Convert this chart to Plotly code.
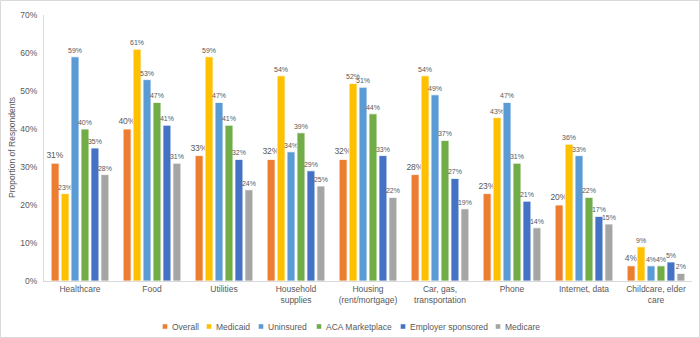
import plotly.graph_objects as go

categories = ["Healthcare", "Food", "Utilities", "Household<br>supplies", "Housing<br>(rent/mortgage)",
              "Car, gas,<br>transportation", "Phone", "Internet, data", "Childcare, elder<br>care"]
series_names = ["Overall", "Medicaid", "Uninsured", "ACA Marketplace", "Employer sponsored", "Medicare"]
overall = [31, 40, 33, 32, 32, 28, 23, 20, 4]
medicaid = [23, 61, 59, 54, 52, 54, 43, 36, 9]
uninsured = [59, 53, 47, 34, 51, 49, 47, 33, 4]
aca = [40, 47, 41, 39, 44, 37, 31, 22, 4]
employer = [35, 41, 32, 29, 33, 27, 21, 17, 5]
medicare = [28, 31, 24, 25, 22, 19, 14, 15, 2]
y_ticks = [0, 10, 20, 30, 40, 50, 60, 70]

colors = ["#ED7D31", "#FFC000", "#5B9BD5", "#70AD47", "#4472C4", "#A5A5A5"]
all_series = [overall, medicaid, uninsured, aca, employer, medicare]
FONT = "Liberation Sans"
GREY = "#595959"

fig = go.Figure()
for i, (name, vals) in enumerate(zip(series_names, all_series)):
    fig.add_trace(go.Bar(
        x=categories, y=vals, name=name,
        marker=dict(color=colors[i], line=dict(color="white", width=0.8)),
        text=[f"{v}%" for v in vals], textposition="outside", cliponaxis=False,
        constraintext="none",
        textfont=dict(size=8.5 if i == 0 else 7, color=GREY, family=FONT),
    ))

W, H = 700, 338
L, R, T, B = 44, 8, 15, 57
pw, ph = W - L - R, H - T - B


def px_x(x):
    return (x - L) / pw


def px_y(y):
    return (H - B - y) / ph


# custom compact legend (Excel style)
legend_marker_x = [165, 209, 261, 319, 403, 498]
legend_y = 326.5
shapes = [dict(type="rect", xref="paper", yref="paper",
               x0=px_x(0.5), x1=px_x(W - 0.5), y0=px_y(H - 0.5), y1=px_y(0.5),
               line=dict(color="#D9D9D9", width=1), layer="below")]
annotations = []
for i, name in enumerate(series_names):
    mx = legend_marker_x[i]
    shapes.append(dict(type="rect", xref="paper", yref="paper",
                       x0=px_x(mx - 2.3), x1=px_x(mx + 2.3),
                       y0=px_y(legend_y + 2.3), y1=px_y(legend_y - 2.3),
                       fillcolor=colors[i], line=dict(width=0)))
    annotations.append(dict(xref="paper", yref="paper", x=px_x(mx + 4.5), y=px_y(legend_y),
                            xanchor="left", yanchor="middle", showarrow=False, text=name,
                            font=dict(size=8.5, color=GREY, family=FONT)))
annotations.append(dict(xref="paper", yref="paper", x=px_x(12), y=0.5, textangle=-90,
                        xanchor="center", yanchor="middle", showarrow=False,
                        text="Proportion of Respondents",
                        font=dict(size=8.5, color=GREY, family=FONT)))

fig.update_layout(
    width=W, height=H, barmode="group", bargap=0.17, bargroupgap=0.2,
    margin=dict(l=L, r=R, t=T, b=B, autoexpand=False),
    plot_bgcolor="white", paper_bgcolor="white",
    font=dict(family=FONT, color=GREY, size=8.5),
    showlegend=False,
    shapes=shapes, annotations=annotations,
)
fig.update_xaxes(showline=True, linecolor="#D9D9D9", linewidth=1, ticks="", automargin=False,
                 tickfont=dict(size=8.5, color=GREY, family=FONT))
fig.update_yaxes(range=[0, 70], tickvals=y_ticks, ticktext=[f"{t}%" for t in y_ticks],
                 showgrid=False, showline=True, linecolor="#D9D9D9", zeroline=False,
                 automargin=False, ticks="", ticklabelstandoff=4,
                 tickfont=dict(size=8.5, color=GREY, family=FONT))

fig.write_html("out.html", config={"displayModeBar": False},
               post_script="document.body.style.margin='0';document.body.style.overflow='hidden';")
